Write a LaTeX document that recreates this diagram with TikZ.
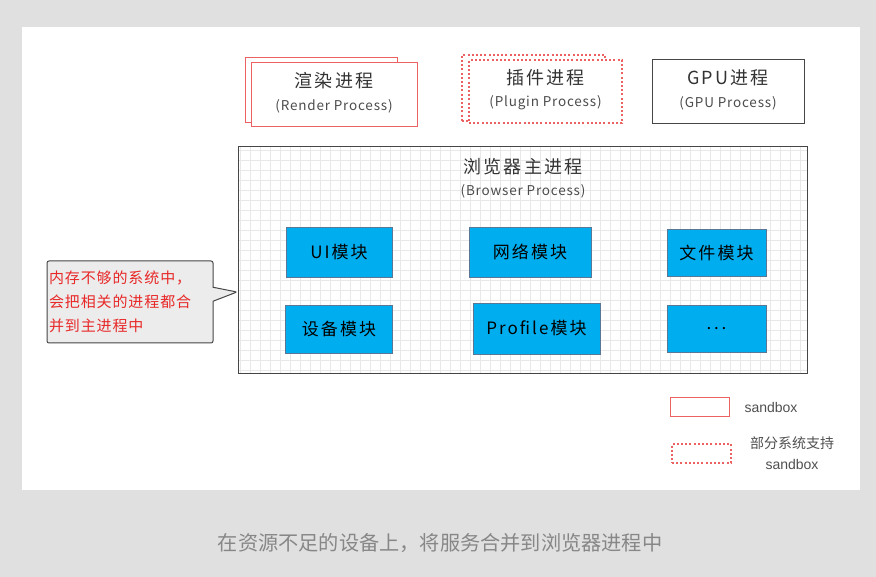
\documentclass[tikz,border=0pt]{standalone}
\usepackage{fontspec}
\setmainfont{Noto Sans CJK SC}
\newfontfamily\legendfont{Liberation Sans}
\newfontfamily\cjkfont{Noto Sans CJK SC}
\newfontfamily\spacedfont[LetterSpace=12]{Noto Sans CJK SC}
\newfontfamily\widefont[LetterSpace=6]{Noto Sans CJK SC}
\usetikzlibrary{shapes.callouts}
\definecolor{pagebg}{RGB}{224,224,224}
\definecolor{redline}{RGB}{236,98,98}
\definecolor{boxgray}{RGB}{70,70,70}
\definecolor{gridgray}{RGB}{232,232,232}
\definecolor{modfill}{RGB}{0,174,239}
\definecolor{modline}{RGB}{90,120,150}
\definecolor{calloutfill}{RGB}{236,236,236}
\definecolor{callouttext}{RGB}{232,40,40}
\definecolor{captiongray}{RGB}{135,135,135}
\definecolor{legendtext}{RGB}{80,80,80}
\tikzset{
  procbox/.style={draw, fill=white, line width=0.9pt, inner sep=0pt},
  sandboxbox/.style={procbox, draw=redline},
  partialbox/.style={procbox, draw=redline, dash pattern=on 2pt off 2.2pt, line width=1.3pt},
  gpubox/.style={procbox, draw=boxgray},
  titletext/.style={font=\spacedfont\fontsize{18}{21}\selectfont, text=black!80},
  subtext/.style={font=\widefont\fontsize{13.5}{16}\selectfont, text=black!70},
  modbox/.style={draw=modline, fill=modfill, line width=0.5pt, inner sep=0pt,
    font=\spacedfont\fontsize{17}{20}\selectfont, text=black},
  legendlabel/.style={font=\legendfont\fontsize{14}{16}\selectfont, text=legendtext},
}
\begin{document}
\begin{tikzpicture}[x=1pt,y=-1pt]
\useasboundingbox (0,0) rectangle (876,577);
\fill[pagebg] (0,0) rectangle (876,577);
\fill[white] (22,27) rectangle (860,490);

% Render process (stacked)
\node[sandboxbox, minimum width=152pt, minimum height=65pt] (renderback) at (321,89.5) {};
\node[sandboxbox, minimum width=166pt, minimum height=64pt] (render) at (334,94) {};
\node[titletext] (rendertitle) at (334,81) {渲染进程};
\node[subtext] (rendersub) at (334,106) {(Render Process)};

% Plugin process (stacked, dotted)
\node[partialbox, minimum width=143pt, minimum height=66pt] (pluginback) at (533.5,88) {};
\node[partialbox, minimum width=153pt, minimum height=63pt] (plugin) at (545.5,91.5) {};
\node[titletext] (plugintitle) at (545.5,78) {插件进程};
\node[subtext] (pluginsub) at (545.5,103) {(Plugin Process)};

% GPU process
\node[gpubox, minimum width=152pt, minimum height=64pt] (gpu) at (728,91) {};
\node[titletext] (gputitle) at (728,78) {GPU进程};
\node[subtext] (gpusub) at (728,103) {(GPU Process)};

% Browser process with grid
\begin{scope}
\clip (238,147) rectangle (807,374);
\draw[gridgray, line width=0.6pt, step=10pt] (230,140) grid (815,380);
\end{scope}
\node[draw=boxgray, line width=1pt, minimum width=569pt, minimum height=227pt, inner sep=0pt] (browser) at (522.5,260.5) {};
\node[titletext] (browsertitle) at (523,167) {浏览器主进程};
\node[subtext] (browsersub) at (523,191) {(Browser Process)};

% Modules
\node[modbox, minimum width=106pt, minimum height=50pt] (ui) at (339,252) {UI模块};
\node[modbox, minimum width=122pt, minimum height=50pt] (net) at (530,252) {网络模块};
\node[modbox, minimum width=99pt, minimum height=47pt] (file) at (716.5,252.5) {文件模块};
\node[modbox, minimum width=107pt, minimum height=48pt] (device) at (339,329) {设备模块};
\node[modbox, minimum width=127pt, minimum height=51pt] (profile) at (536.5,328.5) {Profile模块};
\node[modbox, minimum width=99pt, minimum height=47pt] (more) at (716.5,328.5) {\raisebox{-3pt}{.\,.\,.}};

% Callout
\coordinate (tip) at (237,292);
\node[rectangle callout, callout absolute pointer={(tip)}, callout pointer width=14pt,
  draw=boxgray, fill=calloutfill, line width=1pt, rounded corners=2pt,
  minimum width=166pt, minimum height=82pt, text width=162pt, inner xsep=2pt,
  align=left, text=callouttext, font=\widefont\fontsize{15}{24}\selectfont] (note) at (130,302)
  {内存不够的系统中，\\会把相关的进程都合\\并到主进程中};

% Legend
\node[procbox, draw=redline, line width=0.8pt, minimum width=59pt, minimum height=19pt] (legsolid) at (699.5,406.5) {};
\node[partialbox, line width=1.1pt, minimum width=59pt, minimum height=19pt] (legdotted) at (701.5,453.5) {};
\node[legendlabel, anchor=center] (legsolidtext) at (771,407) {sandbox};
\node[legendlabel, align=center, font=\cjkfont\fontsize{14}{21}\selectfont, anchor=center] (legdottedtext) at (792,453)
  {部分系统支持\\{\legendfont sandbox}};

% Caption
\node[text=captiongray, font=\fontsize{20.2}{23}\selectfont] (caption) at (440,543) {在资源不足的设备上，将服务合并到浏览器进程中};
\end{tikzpicture}
\end{document}
